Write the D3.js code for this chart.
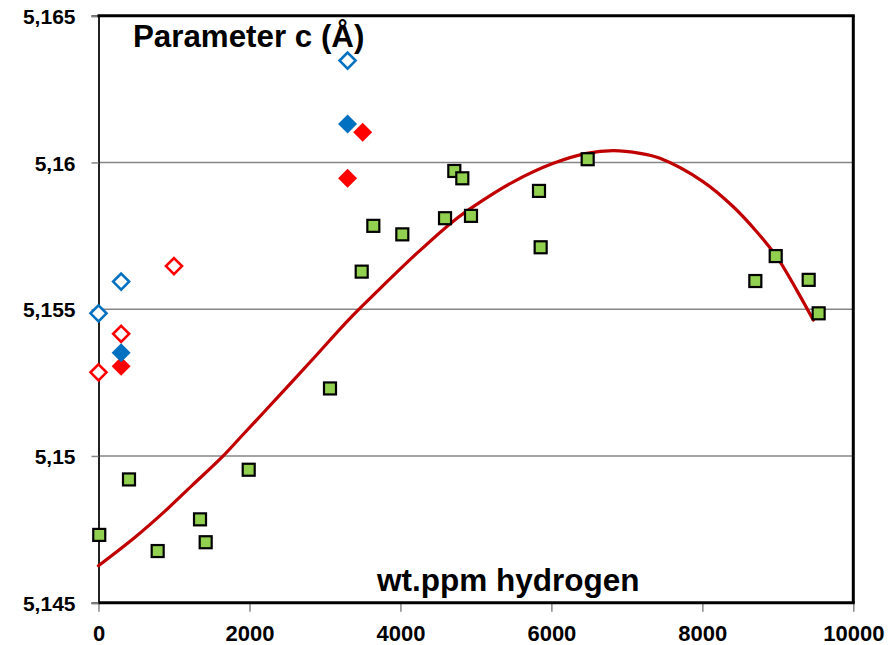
<!DOCTYPE html>
<html>
<head>
<meta charset="utf-8">
<script src="https://cdn.jsdelivr.net/npm/d3@7"></script>
<style>
  html, body { margin: 0; padding: 0; background: #fff; }
  svg { display: block; }
  text { font-family: "Liberation Sans", Arial, sans-serif; font-weight: bold; fill: #000; }
</style>
</head>
<body>
<svg id="chart" width="891" height="645"></svg>
<script>
// ---- data ----
const xTicks = [0, 2000, 4000, 6000, 8000, 10000];
const yTicks = [5.145, 5.15, 5.155, 5.16, 5.165];
const yTickLabels = ["5,145", "5,15", "5,155", "5,16", "5,165"];

const greenX = [10, 404, 784, 1345, 1420, 1990, 3067, 3487, 3641, 4025, 4591, 4714, 4820, 4935, 5836, 5858, 6481, 8702, 8972, 9409, 9541];
const greenY = [5.14731, 5.14920, 5.14676, 5.14784, 5.14706, 5.14953, 5.15230, 5.15628, 5.15784, 5.15755, 5.15810, 5.15971, 5.15946, 5.15818, 5.15903, 5.15711, 5.16011, 5.15596, 5.15681, 5.15600, 5.15486];

const blueOpenX = [0, 300, 3300];
const blueOpenY = [5.15486, 5.15594, 5.16347];
const blueFilledX = [300, 3300];
const blueFilledY = [5.15352, 5.16131];
const redOpenX = [0, 300, 1000];
const redOpenY = [5.15285, 5.15416, 5.15647];
const redFilledX = [300, 3300, 3500];
const redFilledY = [5.15306, 5.15946, 5.16103];

const trendX = [0, 484, 881, 1234, 1632, 1897, 2382, 2868, 3310, 3729, 4216, 4701, 5010, 5496, 6026, 6468, 6820, 7174, 7439, 8013, 8410, 8720, 8985, 9250, 9470];
const trendY = [5.14626, 5.14723, 5.14812, 5.14898, 5.14995, 5.15068, 5.15202, 5.15338, 5.15463, 5.15570, 5.15690, 5.15800, 5.15857, 5.15934, 5.15997, 5.16031, 5.16040, 5.16031, 5.16014, 5.15934, 5.15849, 5.15764, 5.15679, 5.15565, 5.15463];

const titleText = "Parameter c (Å)";
const xTitleText = "wt.ppm hydrogen";

// ---- layout ----
const svg = d3.select("#chart");
const mLeft = 98.5, mRight = 853.3, mTop = 15.7, mBottom = 602.7;
const x = d3.scaleLinear().domain([0, 10000]).range([mLeft, mRight]);
const y = d3.scaleLinear().domain([5.145, 5.165]).range([mBottom, mTop]);

// gridlines
svg.append("g").selectAll("line")
  .data(yTicks.filter(v => v > 5.145 && v < 5.165))
  .join("line")
  .attr("x1", mLeft).attr("x2", mRight)
  .attr("y1", d => y(d)).attr("y2", d => y(d))
  .attr("stroke", "#868686").attr("stroke-width", 1.5);

// y axis
const yAxis = d3.axisLeft(y).tickValues(yTicks).tickSize(7).tickPadding(16)
  .tickFormat((d, i) => yTickLabels[i]);
const gy = svg.append("g").attr("transform", `translate(${mLeft},0)`).call(yAxis);
gy.select(".domain").attr("stroke", "#222").attr("stroke-width", 2);
gy.selectAll(".tick line").attr("stroke", "#868686").attr("stroke-width", 1.5);
gy.selectAll(".tick text").style("font-size", "21px").style("font-family", "'Liberation Sans', Arial, sans-serif")
  .style("font-weight", "bold").attr("fill", "#000").attr("dy", "0.36em");

// x axis
const xAxis = d3.axisBottom(x).tickValues(xTicks).tickSize(9).tickPadding(14)
  .tickFormat(d3.format("d"));
const gx = svg.append("g").attr("transform", `translate(0,${mBottom})`).call(xAxis);
gx.select(".domain").remove();
gx.selectAll(".tick line").attr("stroke", "#868686").attr("stroke-width", 1.5);
gx.selectAll(".tick text").style("font-size", "22px").style("font-family", "'Liberation Sans', Arial, sans-serif")
  .style("font-weight", "bold").attr("fill", "#000");

// frame: top, right, bottom thick
svg.append("line").attr("x1", mLeft - 1).attr("x2", mRight + 1.5).attr("y1", mTop).attr("y2", mTop)
  .attr("stroke", "#000").attr("stroke-width", 3);
svg.append("line").attr("x1", mRight).attr("x2", mRight).attr("y1", mTop).attr("y2", mBottom)
  .attr("stroke", "#000").attr("stroke-width", 3);
svg.append("line").attr("x1", mLeft).attr("x2", mRight + 1.5).attr("y1", mBottom).attr("y2", mBottom)
  .attr("stroke", "#000").attr("stroke-width", 3);

// trend line
const trend = trendX.map((v, i) => [v, trendY[i]]);
svg.append("path")
  .datum(trend)
  .attr("fill", "none")
  .attr("stroke", "#C00000")
  .attr("stroke-width", 3.2)
  .attr("stroke-linecap", "round")
  .attr("d", d3.line().x(d => x(d[0])).y(d => y(d[1])).curve(d3.curveCatmullRom.alpha(0.5)));

// green squares
const sq = 12;
svg.append("g").selectAll("rect")
  .data(greenX.map((v, i) => [v, greenY[i]]))
  .join("rect")
  .attr("x", d => x(d[0]) - sq / 2).attr("y", d => y(d[1]) - sq / 2)
  .attr("width", sq).attr("height", sq)
  .attr("fill", "#92D050").attr("stroke", "#000").attr("stroke-width", 2.2);

// diamonds
function diamondPath(r) {
  return `M0,${-r}L${r},0L0,${r}L${-r},0Z`;
}
function drawDiamonds(xs, ys, color, filled) {
  const r = filled ? 9.5 : 8;
  svg.append("g").selectAll("path")
    .data(xs.map((v, i) => [v, ys[i]]))
    .join("path")
    .attr("transform", d => `translate(${x(d[0])},${y(d[1])})`)
    .attr("d", diamondPath(r))
    .attr("fill", filled ? color : "#fff")
    .attr("stroke", color)
    .attr("stroke-width", filled ? 0 : 2.6);
}
drawDiamonds(blueOpenX, blueOpenY, "#0070C0", false);
drawDiamonds(redOpenX, redOpenY, "#FF0000", false);
drawDiamonds(redFilledX, redFilledY, "#FF0000", true);
drawDiamonds(blueFilledX, blueFilledY, "#0070C0", true);

// titles
svg.append("text").attr("x", 133).attr("y", 46.5)
  .style("font-size", "31.3px").text(titleText);
svg.append("text").attr("x", 377).attr("y", 591)
  .style("font-size", "31.5px").text(xTitleText);
</script>
</body>
</html>
